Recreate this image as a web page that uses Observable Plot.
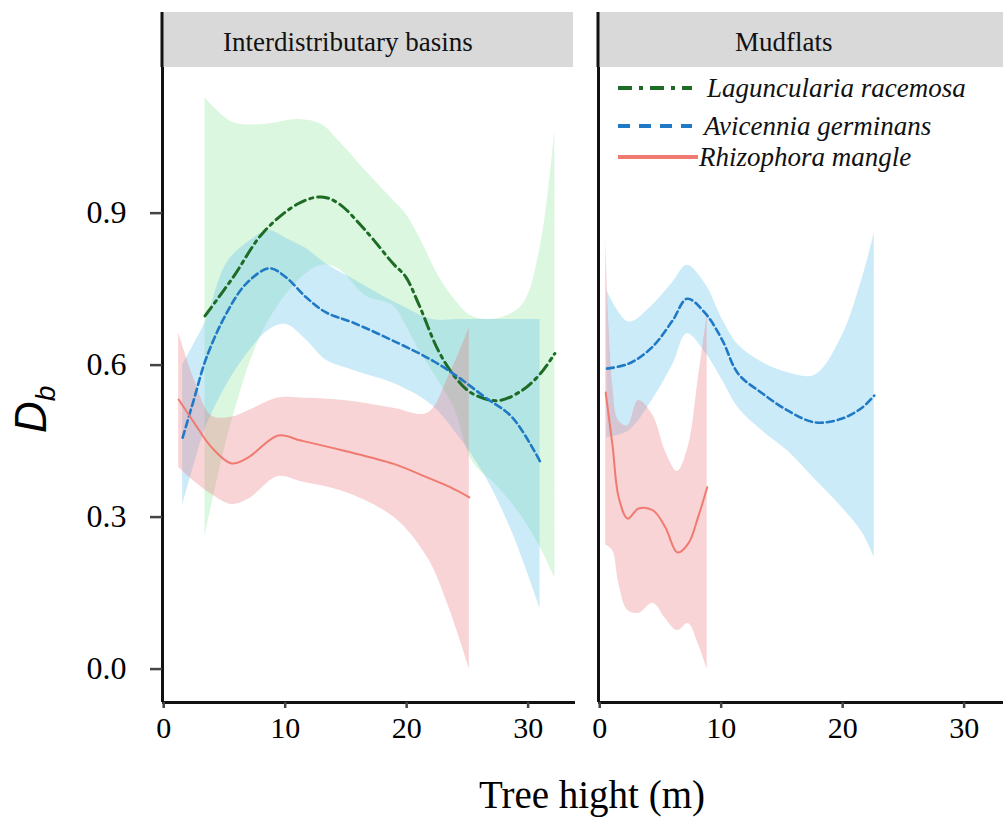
<!DOCTYPE html>
<html>
<head>
<meta charset="utf-8">
<script src="https://cdn.jsdelivr.net/npm/d3@7"></script>
<script src="https://cdn.jsdelivr.net/npm/@observablehq/plot@0.6"></script>
<style>
  html, body { margin: 0; padding: 0; background: #fff; overflow: hidden; }
  #chart { width: 1012px; }
</style>
</head>
<body>
<div id="chart"></div>
<script>
// ---------- categories / labels ----------
const habitats = ["Interdistributary basins", "Mudflats"];
const species = ["Laguncularia racemosa", "Avicennia germinans", "Rhizophora mangle"];
const lineColors = ["#1d6b25", "#2079c4", "#f07a70"];
const bandColors = ["#8fe59b", "#5cc1ec", "#e8797f"];
const yTicks = [0, 0.3, 0.6, 0.9];
const xTicks = [0, 10, 20, 30];
const xLabel = "Tree hight (m)";

// ---------- Interdistributary basins ----------
const lagBasinX  = [3.4, 5.7, 8.2, 11.1, 13.0, 14.4, 16.6, 18.9, 19.9, 21.0, 22.6, 24.0, 25.4, 27.5, 29.5, 31.0, 32.2];
const lagBasinY  = [0.697, 0.773, 0.862, 0.919, 0.932, 0.919, 0.866, 0.80, 0.775, 0.72, 0.629, 0.576, 0.544, 0.530, 0.550, 0.583, 0.623];
const lagBasinHi = [1.128, 1.079, 1.075, 1.085, 1.075, 1.043, 0.984, 0.925, 0.90, 0.855, 0.777, 0.728, 0.696, 0.692, 0.718, 0.832, 1.063];
const lagBasinLo = [0.263, 0.497, 0.668, 0.767, 0.797, 0.79, 0.737, 0.717, 0.68, 0.63, 0.57, 0.51, 0.41, 0.36, 0.30, 0.24, 0.18];

const avBasinX  = [1.56, 2.46, 3.52, 5.16, 6.80, 8.69, 10.08, 11.72, 13.36, 15.57, 19.34, 22.13, 24.26, 26.48, 28.69, 30.98];
const avBasinY  = [0.457, 0.530, 0.615, 0.702, 0.761, 0.791, 0.773, 0.734, 0.704, 0.684, 0.643, 0.609, 0.576, 0.536, 0.497, 0.41];
const avBasinHi = [0.60, 0.64, 0.69, 0.80, 0.84, 0.865, 0.85, 0.83, 0.80, 0.77, 0.72, 0.69, 0.69, 0.69, 0.69, 0.69];
const avBasinLo = [0.323, 0.40, 0.48, 0.56, 0.62, 0.67, 0.68, 0.65, 0.61, 0.59, 0.56, 0.52, 0.46, 0.38, 0.27, 0.12];

const rhBasinX  = [1.23, 2.54, 3.93, 5.57, 6.97, 9.43, 11.31, 14.84, 18.93, 21.72, 23.5, 25.16];
const rhBasinY  = [0.532, 0.485, 0.438, 0.406, 0.418, 0.461, 0.451, 0.431, 0.405, 0.378, 0.36, 0.339];
const rhBasinHi = [0.664, 0.57, 0.50, 0.497, 0.51, 0.535, 0.535, 0.53, 0.515, 0.505, 0.58, 0.674];
const rhBasinLo = [0.398, 0.37, 0.345, 0.325, 0.335, 0.38, 0.37, 0.35, 0.30, 0.22, 0.12, 0.0];

// ---------- Mudflats ----------
const avMudX  = [0.6, 2.4, 4.3, 6.0, 7.2, 8.7, 10.1, 11.4, 13.4, 15.5, 17.7, 19.9, 21.6, 22.6];
const avMudY  = [0.593, 0.603, 0.635, 0.688, 0.731, 0.702, 0.649, 0.583, 0.544, 0.510, 0.487, 0.494, 0.516, 0.540];
const avMudHi = [0.747, 0.685, 0.717, 0.763, 0.797, 0.76, 0.69, 0.64, 0.605, 0.585, 0.58, 0.655, 0.77, 0.86];
const avMudLo = [0.457, 0.47, 0.53, 0.60, 0.662, 0.625, 0.57, 0.516, 0.47, 0.43, 0.375, 0.32, 0.27, 0.22];

const rhMudX  = [0.49, 1.07, 1.56, 2.3, 3.2, 4.4, 5.4, 6.4, 7.3, 8.1, 8.85];
const rhMudY  = [0.546, 0.438, 0.339, 0.297, 0.317, 0.313, 0.280, 0.230, 0.248, 0.300, 0.359];
const rhMudHi = [0.85, 0.56, 0.49, 0.48, 0.53, 0.50, 0.43, 0.39, 0.44, 0.57, 0.70];
const rhMudLo = [0.245, 0.234, 0.17, 0.116, 0.11, 0.13, 0.10, 0.076, 0.09, 0.05, 0.0];

// ---------- build table ----------
function series(habitat, sp, xs, ys, lo, hi) {
  return xs.map((x, i) => ({habitat, species: sp, x, y: ys[i], lo: lo[i], hi: hi[i]}));
}
const rows = [
  ...series(habitats[0], species[0], lagBasinX, lagBasinY, lagBasinLo, lagBasinHi),
  ...series(habitats[0], species[1], avBasinX, avBasinY, avBasinLo, avBasinHi),
  ...series(habitats[0], species[2], rhBasinX, rhBasinY, rhBasinLo, rhBasinHi),
  ...series(habitats[1], species[1], avMudX, avMudY, avMudLo, avMudHi),
  ...series(habitats[1], species[2], rhMudX, rhMudY, rhMudLo, rhMudHi)
];

const xDomain = [-0.1, 33.9];
const yDomain = [-0.066, 1.1875];
const dashes = ["11,5,3,5", "7,4", null];
const widths = [3, 2.6, 2];
const curveName = "catmull-rom";
const serif = "Liberation Serif";

const lineMarks = species.map((sp, i) => Plot.line(rows.filter(d => d.species === sp), {
  x: "x", y: "y", fx: "habitat", stroke: lineColors[i], strokeWidth: widths[i],
  strokeDasharray: dashes[i] ?? undefined, curve: curveName
}));

const chart = Plot.plot({
  width: 1012,
  height: 817,
  marginLeft: 161,
  marginRight: 0,
  marginTop: 67,
  marginBottom: 115,
  style: {fontFamily: serif, fontSize: "30px", color: "black", background: "white", maxWidth: "none"},
  fx: {domain: habitats, paddingInner: 0.0526, paddingOuter: 0, axis: null, label: null},
  x: {domain: xDomain, label: null},
  y: {domain: yDomain, label: null},
  color: {domain: species, range: bandColors},
  marks: [
    Plot.areaY(rows, {x: "x", y1: "lo", y2: "hi", fx: "habitat", z: "species", fill: "species", fillOpacity: 0.32, curve: curveName}),
    ...lineMarks,
    Plot.ruleY([yDomain[0]], {stroke: "#111", strokeWidth: 3}),
    Plot.ruleX([xDomain[0]], {stroke: "#111", strokeWidth: 3}),
    Plot.axisY({ticks: yTicks, tickFormat: d3.format(".1f"), tickSize: 12, tickPadding: 24, fontSize: 32, fontFamily: serif, stroke: "#444", fill: "black", strokeWidth: 2.5, label: null}),
    Plot.axisX({ticks: xTicks, tickSize: 6, tickPadding: 8, fontSize: 30, fontFamily: serif, stroke: "#444", fill: "black", strokeWidth: 2.5, label: null})
  ]
});

document.getElementById("chart").appendChild(chart);

// ---------- facet strips, titles, legend ----------
const svg = d3.select(chart);
const fxScale = chart.scale("fx");
const bw = fxScale.bandwidth;
const stripTop = 12, plotTop = 67;
habitats.forEach(h => {
  const x0 = fxScale.apply(h);
  svg.append("rect").attr("x", x0 + 1).attr("y", stripTop).attr("width", bw - 3).attr("height", plotTop - stripTop).attr("fill", "#d9d9d9");
  svg.append("line").attr("x1", x0).attr("x2", x0).attr("y1", stripTop).attr("y2", plotTop).attr("stroke", "#111").attr("stroke-width", 3);
  svg.append("text").attr("x", x0 + bw * 0.45).attr("y", 51)
    .attr("text-anchor", "middle").attr("font-family", serif).attr("font-size", 27)
    .attr("fill", "#111").text(h);
});

// y title D_b
const yt = svg.append("text").attr("transform", "translate(46,433) rotate(-90)").attr("text-anchor", "start")
  .attr("font-family", "Liberation Sans").attr("font-style", "italic").attr("font-size", 44).attr("fill", "black");
yt.append("tspan").text("D");
yt.append("tspan").attr("font-size", 28).attr("dy", 9).text("b");

// x title
svg.append("text").attr("x", 592).attr("y", 808).attr("text-anchor", "middle")
  .attr("font-family", serif).attr("font-size", 39).attr("fill", "black").text(xLabel);

// legend inside Mudflats facet
const lx = fxScale.apply(habitats[1]);
const legendY = [88, 126, 157];
species.forEach((sp, i) => {
  svg.append("line").attr("x1", lx + 20).attr("x2", lx + (i === 2 ? 100 : 94)).attr("y1", legendY[i]).attr("y2", legendY[i])
    .attr("stroke", lineColors[i]).attr("stroke-width", 4)
    .attr("stroke-dasharray", i === 0 ? "14,7,4,7" : i === 1 ? "12,9" : null);
  svg.append("text").attr("x", lx + (i === 0 ? 109 : i === 1 ? 106 : 101)).attr("y", legendY[i]).attr("dy", "0.35em")
    .attr("text-anchor", "start")
    .attr("font-family", serif).attr("font-style", "italic").attr("font-size", 27).attr("fill", "#111").text(sp);
});
</script>
</body>
</html>
